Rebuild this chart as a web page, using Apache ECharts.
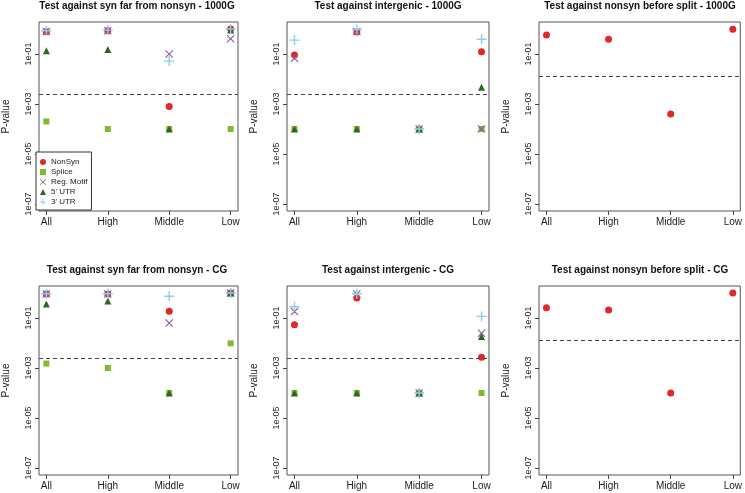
<!DOCTYPE html>
<html>
<head>
<meta charset="utf-8">
<script src="https://cdn.jsdelivr.net/npm/echarts@6/dist/echarts.min.js"></script>
<style>
  html, body { margin: 0; padding: 0; background: #fff; }
  #chart { width: 745px; height: 493px; }
</style>
</head>
<body>
<div id="chart"></div>
<script>
// categories on the x axis
var categories = ['All', 'High', 'Middle', 'Low'];
var seriesNames = ['NonSyn', 'Splice', 'Reg. Motif', "5' UTR", "3' UTR"];

// Test against syn far from nonsyn - 1000G
var synFar1000G_nonSyn = [0.78, 0.85, 8e-4, 1.0];
var synFar1000G_splice = [2e-4, 1e-4, 1e-4, 1e-4];
var synFar1000G_regMotif = [0.8, 0.85, 0.1, 0.41];
var synFar1000G_utr5 = [0.135, 0.15, 1e-4, 0.92];
var synFar1000G_utr3 = [0.85, 0.9, 0.052, 1.0];

// Test against intergenic - 1000G
var inter1000G_nonSyn = [0.091, 0.76, 1e-4, 0.123];
var inter1000G_splice = [1e-4, 1e-4, 1e-4, 1e-4];
var inter1000G_regMotif = [0.067, 0.8, 1e-4, 1e-4];
var inter1000G_utr5 = [1e-4, 1e-4, 1e-4, 0.0047];
var inter1000G_utr3 = [0.36, 0.95, 1e-4, 0.39];

// Test against nonsyn before split - 1000G
var before1000G_nonSyn = [0.575, 0.39, 4e-4, 0.97];

// Test against syn far from nonsyn - CG
var synFarCG_nonSyn = [0.91, 0.91, 0.185, 1.0];
var synFarCG_splice = [0.0015, 1e-3, 1e-4, 0.0097];
var synFarCG_regMotif = [0.91, 0.91, 0.063, 1.0];
var synFarCG_utr5 = [0.36, 0.48, 1e-4, 1.0];
var synFarCG_utr3 = [0.93, 0.93, 0.74, 1.0];

// Test against intergenic - CG
var interCG_nonSyn = [0.054, 0.63, 1e-4, 0.0027];
var interCG_splice = [1e-4, 1e-4, 1e-4, 1e-4];
var interCG_regMotif = [0.18, 0.91, 1e-4, 0.0245];
var interCG_utr5 = [1e-4, 1e-4, 1e-4, 0.018];
var interCG_utr3 = [0.28, 0.93, 1e-4, 0.116];

// Test against nonsyn before split - CG
var beforeCG_nonSyn = [0.26, 0.21, 1e-4, 1.0];

// significance thresholds (dashed lines)
var thresholds = [0.0025, 0.0025, 0.0125, 0.0025, 0.0025, 0.0125];
var yTicks = [1e-7, 1e-5, 1e-3, 1e-1];

var panels = [
    {title: 'Test against syn far from nonsyn - 1000G', data: [synFar1000G_nonSyn, synFar1000G_splice, synFar1000G_regMotif, synFar1000G_utr5, synFar1000G_utr3]},
    {title: 'Test against intergenic - 1000G', data: [inter1000G_nonSyn, inter1000G_splice, inter1000G_regMotif, inter1000G_utr5, inter1000G_utr3]},
    {title: 'Test against nonsyn before split - 1000G', data: [before1000G_nonSyn]},
    {title: 'Test against syn far from nonsyn - CG', data: [synFarCG_nonSyn, synFarCG_splice, synFarCG_regMotif, synFarCG_utr5, synFarCG_utr3]},
    {title: 'Test against intergenic - CG', data: [interCG_nonSyn, interCG_splice, interCG_regMotif, interCG_utr5, interCG_utr3]},
    {title: 'Test against nonsyn before split - CG', data: [beforeCG_nonSyn]}
];

var styles = [
    {symbol: 'circle', size: 7, color: '#E2262A'},
    {symbol: 'rect', size: 6, color: '#80BA2E'},
    {symbol: 'path://M0,1 L1,0 L5,4 L9,0 L10,1 L6,5 L10,9 L9,10 L5,6 L1,10 L0,9 L4,5 Z', size: 8, color: '#8E5BA0'},
    {symbol: 'triangle', size: 7, color: '#2E6526'},
    {symbol: 'path://M4.3,0 H5.7 V4.3 H10 V5.7 H5.7 V10 H4.3 V5.7 H0 V4.3 H4.3 Z', size: 10, color: '#8CCFE6'}
];

var lefts = [36, 287, 539];
var tops = [22, 286];
var gridW = 202, gridH = 189;

function fmtExp(v) {
    var e = Math.round(Math.log10(v));
    return '1e' + (e < 0 ? '-' : '+') + String(Math.abs(e)).padStart(2, '0');
}

var grid = [], xAxis = [], yAxis = [], title = [], series = [];

panels.forEach(function (p, i) {
    var left = lefts[i % 3];
    var top = tops[Math.floor(i / 3)];
    grid.push({
        left: left, top: top, width: gridW, height: gridH,
        show: true, borderColor: '#555', borderWidth: 1, backgroundColor: 'transparent'
    });
    title.push({
        text: p.title, left: left + gridW / 2, top: top - 21, padding: 0,
        textAlign: 'center', textVerticalAlign: 'top',
        textStyle: {fontFamily: 'Liberation Sans', fontSize: 10, fontWeight: 'bold', color: '#111'}
    });
    xAxis.push({
        gridIndex: i, type: 'value', min: 0.88, max: 4.12,
        axisLine: {show: false},
        splitLine: {show: false},
        axisTick: {show: true, customValues: [1, 2, 3, 4], length: 4, lineStyle: {color: '#444'}},
        axisLabel: {
            customValues: [1, 2, 3, 4], margin: 6,
            fontFamily: 'Liberation Sans', fontSize: 10, color: '#222',
            formatter: function (v) { return categories[Math.round(v) - 1]; }
        }
    });
    yAxis.push({
        gridIndex: i, type: 'log', logBase: 10,
        min: Math.pow(10, -7.28), max: Math.pow(10, 0.28),
        name: 'P-value', nameLocation: 'middle', nameGap: 28,
        nameTextStyle: {fontFamily: 'Liberation Sans', fontSize: 10, color: '#222'},
        axisLine: {show: false},
        splitLine: {show: false},
        axisTick: {show: true, customValues: yTicks, length: 4, lineStyle: {color: '#444'}},
        axisLabel: {
            customValues: yTicks, rotate: 90, margin: 6,
            fontFamily: 'Liberation Sans', fontSize: 9, color: '#222',
            formatter: fmtExp
        }
    });
    // the dashed threshold line, drawn by an empty line series
    series.push({
        name: 'threshold', type: 'line', xAxisIndex: i, yAxisIndex: i,
        data: [], silent: true, z: 1,
        markLine: {
            silent: true, precision: 8, symbol: ['none', 'none'], label: {show: false},
            lineStyle: {type: [4, 3], color: '#444', width: 1},
            data: [{yAxis: thresholds[i]}]
        }
    });
    p.data.forEach(function (vals, k) {
        var st = styles[k];
        series.push({
            name: seriesNames[k], type: 'scatter', xAxisIndex: i, yAxisIndex: i,
            symbol: st.symbol, symbolSize: st.size, z: 2,
            itemStyle: {color: st.color, opacity: 1},
            data: vals.map(function (v, j) { return [j + 1, v]; })
        });
    });
});

var chart = echarts.init(document.getElementById('chart'));
chart.setOption({
    backgroundColor: '#fff',
    animation: false,
    title: title,
    grid: grid,
    xAxis: xAxis,
    yAxis: yAxis,
    legend: {
        left: 36, top: 152, orient: 'vertical',
        padding: [5, 4, 3, 4], itemGap: 0, itemWidth: 6, itemHeight: 6,
        borderColor: '#333', borderWidth: 1, backgroundColor: '#fff',
        textStyle: {fontFamily: 'Liberation Sans', fontSize: 8, color: '#222', lineHeight: 10},
        data: seriesNames
    },
    series: series
});
</script>
</body>
</html>
